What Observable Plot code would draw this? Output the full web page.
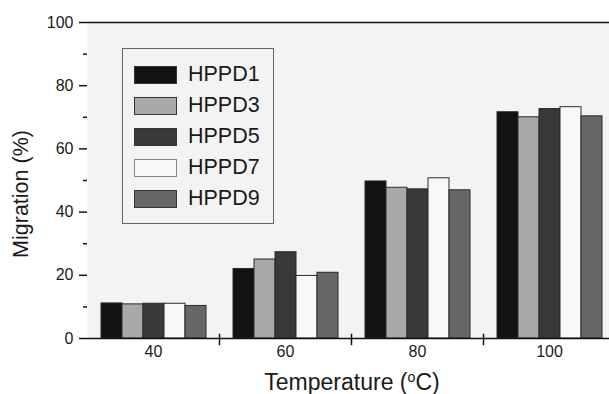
<!DOCTYPE html>
<html>
<head>
<meta charset="utf-8">
<script src="https://cdn.jsdelivr.net/npm/d3@7"></script>
<script src="https://cdn.jsdelivr.net/npm/@observablehq/plot@0.6"></script>
<style>
  html, body { margin: 0; padding: 0; background: #fff; overflow: hidden; }
  #wrap { position: relative; width: 609px; height: 394px; overflow: hidden; font-family: "Liberation Sans", Arial, sans-serif; color: #1a1a1a; }
  #chart { position: absolute; left: 0; top: 0; width: 615px; }
  #chart svg { max-width: none !important; }
  .ytitle { position: absolute; left: 22px; top: 194px; transform: translate(-50%, -50%) rotate(-90deg); white-space: nowrap; font-size: 21.5px; line-height: 1; }
  .xtitle { position: absolute; left: 352px; top: 371px; transform: translateX(-50%); white-space: nowrap; font-size: 23px; line-height: 1; }
  .xtitle .sup { font-size: 0.62em; position: relative; top: -0.55em; }
  #legend { position: absolute; left: 122px; top: 48px; width: 150px; height: 174px; border: 1px solid #666; background: #f3f3f3; }
  .row { position: absolute; left: 0; height: 31px; }
  .sw { position: absolute; left: 11px; width: 41px; height: 16px; border: 1px solid #333; }
  .lab { position: absolute; left: 65px; font-size: 21.5px; line-height: 1; white-space: nowrap; }
</style>
</head>
<body>
<div id="wrap">
  <div id="chart"></div>
  <div class="ytitle">Migration (%)</div>
  <div class="xtitle">Temperature (<span class="sup">o</span>C)</div>
  <div id="legend"></div>
</div>
<script>
const temps = [40, 60, 80, 100];
const series = ["HPPD1", "HPPD3", "HPPD5", "HPPD7", "HPPD9"];
const hppd1 = [11.1, 22.0, 49.7, 71.6];
const hppd3 = [10.8, 25.0, 47.7, 70.0];
const hppd5 = [11.0, 27.3, 47.2, 72.6];
const hppd7 = [11.0, 19.8, 50.7, 73.2];
const hppd9 = [10.3, 20.8, 46.9, 70.3];
const colors = ["#121212", "#a9a9a9", "#393939", "#f8f8f8", "#676767"];
const yTicks = [0, 20, 40, 60, 80, 100];
const yMinor = [10, 30, 50, 70, 90];

const values = [hppd1, hppd3, hppd5, hppd7, hppd9];
const data = [];
temps.forEach((t, i) => series.forEach((s, j) => data.push({temp: t, series: s, value: values[j][i]})));

const chart = Plot.plot({
  width: 615,
  height: 394,
  marginTop: 22,
  marginBottom: 56,
  marginLeft: 87,
  marginRight: 0,
  style: {fontFamily: "'Liberation Sans', Arial, sans-serif", fontSize: "16px", color: "#1a1a1a", background: "transparent", overflow: "visible", maxWidth: "none"},
  fx: {domain: temps, padding: 0, label: null},
  x: {domain: series, paddingInner: 0, paddingOuter: 0.6, axis: null},
  y: {domain: [0, 100], label: null},
  color: {domain: series, range: colors},
  marks: [
    Plot.frame({fill: "#f3f3f3", stroke: null}),
    Plot.barY(data, {fx: "temp", x: "series", y: "value", fill: "series", stroke: "#2a2a2a", strokeWidth: 1}),
    Plot.ruleY([0, 100], {stroke: "#111", strokeWidth: 1.5}),
    Plot.frame({anchor: "right", insetTop: 312, insetBottom: -6, stroke: "#111", strokeWidth: 1.5}),
    Plot.axisY(yTicks, {tickSize: 8, tickPadding: 6, line: true, label: null, fontSize: 16, strokeWidth: 1.5, stroke: "#111"}),
    Plot.axisY(yMinor, {tickSize: 4, tickFormat: () => "", label: null, strokeWidth: 1.5, stroke: "#111"}),
    Plot.axisFx({anchor: "bottom", tickSize: 0, tickPadding: 7, label: null, fontSize: 16})
  ]
});
document.getElementById("chart").appendChild(chart);

const legend = document.getElementById("legend");
series.forEach((s, i) => {
  const row = document.createElement("div");
  row.className = "row";
  row.style.top = (10 + i * 31) + "px";
  const sw = document.createElement("div");
  sw.className = "sw";
  sw.style.top = "7px";
  sw.style.background = colors[i];
  if (s === "HPPD7") sw.style.borderColor = "#888";
  const lab = document.createElement("div");
  lab.className = "lab";
  lab.style.top = "5px";
  lab.textContent = s;
  row.appendChild(sw);
  row.appendChild(lab);
  legend.appendChild(row);
});
</script>
</body>
</html>
